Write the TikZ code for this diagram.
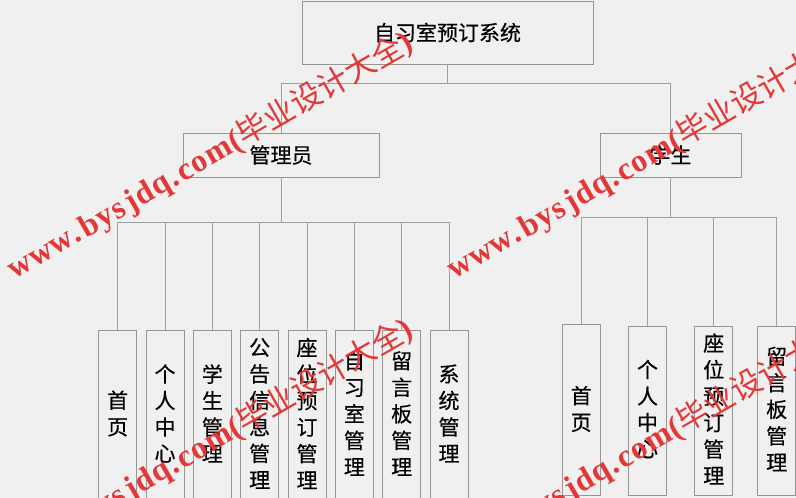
\documentclass[tikz,border=0pt]{standalone}
\usepackage{fontspec}
\setmainfont{Liberation Serif}
\newfontfamily\cjk{Noto Sans CJK SC}[FakeBold=0.35]
\newfontfamily\cjkwm{Noto Sans CJK SC}
\definecolor{bg}{RGB}{240,240,240}
\definecolor{boxgray}{RGB}{150,150,150}
\definecolor{linegray}{RGB}{160,160,160}
\definecolor{wmred}{RGB}{228,56,56}
\tikzset{
  box/.style={draw=boxgray, line width=0.8pt, fill=bg, inner sep=0pt,
    font=\cjk\fontsize{21}{26.5}\selectfont},
  leafbox/.style={draw=boxgray, line width=0.8pt, fill=bg, inner sep=0pt,
    minimum width=38pt, anchor=north},
  leaftext/.style={inner sep=0pt, align=center,
    font=\cjk\fontsize{21}{26.5}\selectfont},
  link/.style={draw=linegray, line width=0.8pt},
  wm/.style={text=wmred, inner sep=0pt, anchor=base west, rotate=30,
    font=\bfseries\fontsize{32}{32}\selectfont}
}
\newcommand{\wmtext}{w\kern1pt w\kern1pt w\kern1pt.\kern3pt b\kern1pt y\kern1pt s\kern4pt j\kern1pt d\kern1pt q\kern1pt.\kern3pt c\kern1pt o\kern1pt m\kern1pt({\cjkwm\mdseries\fontsize{31}{31}\selectfont 毕业设计大全})}
\begin{document}
\begin{tikzpicture}[x=1pt,y=-1pt]
\useasboundingbox[fill=bg] (0,0) rectangle (796,498);
% top levels
\node[box, minimum width=291pt, minimum height=63pt] (sys) at (447.5,32.5) {自习室预订系统};
\node[box, minimum width=196pt, minimum height=44pt] (admin) at (281,155) {管理员};
\node[box, minimum width=141pt, minimum height=44pt] (stu) at (670.5,155) {学生};
\draw[link] (sys.south) -- ++(0,19) -| (admin.north);
\draw[link] (sys.south) ++(0,19) -| (stu.north);
% admin children
\foreach \i/\t [evaluate=\i as \xx using 117.7+47.33*(\i-1)] in
  {1/{首\\页}, 2/{个\\人\\中\\心}, 3/{学\\生\\管\\理}, 4/{公\\告\\信\\息\\管\\理},
   5/{座\\位\\预\\订\\管\\理}, 6/{自\\习\\室\\管\\理}, 7/{留\\言\\板\\管\\理}, 8/{系\\统\\管\\理}}{
  \node[leafbox, minimum height=190pt] (a\i) at (\xx,330) {};
  \node[leaftext] (a\i t) at (\xx,413.5) {\t};
  \draw[link] (admin.south) -- ++(0,44.7) -| (a\i.north);
}
% student children
\foreach \i/\xx/\yy/\t in
  {1/581.2/324.3/{首\\页}, 2/647.5/325.7/{个\\人\\中\\心},
   3/713.7/325.7/{座\\位\\预\\订\\管\\理}, 4/776.7/325.7/{留\\言\\板\\管\\理}}{
  \node[leafbox, minimum height=495pt-\yy pt] (s\i) at (\xx,\yy) {};
  \node[leaftext] (s\i t) at (\xx,409) {\t};
  \draw[link] (stu.south) -- ++(0,40.3) -| (s\i.north);
}
% watermarks
\node[wm] (w1) at (14,280) {\wmtext};
\node[wm] (w2) at (454,280) {\wmtext};
\node[wm] (w3) at (14,567) {\wmtext};
\node[wm] (w4) at (454,567) {\wmtext};
\end{tikzpicture}
\end{document}
